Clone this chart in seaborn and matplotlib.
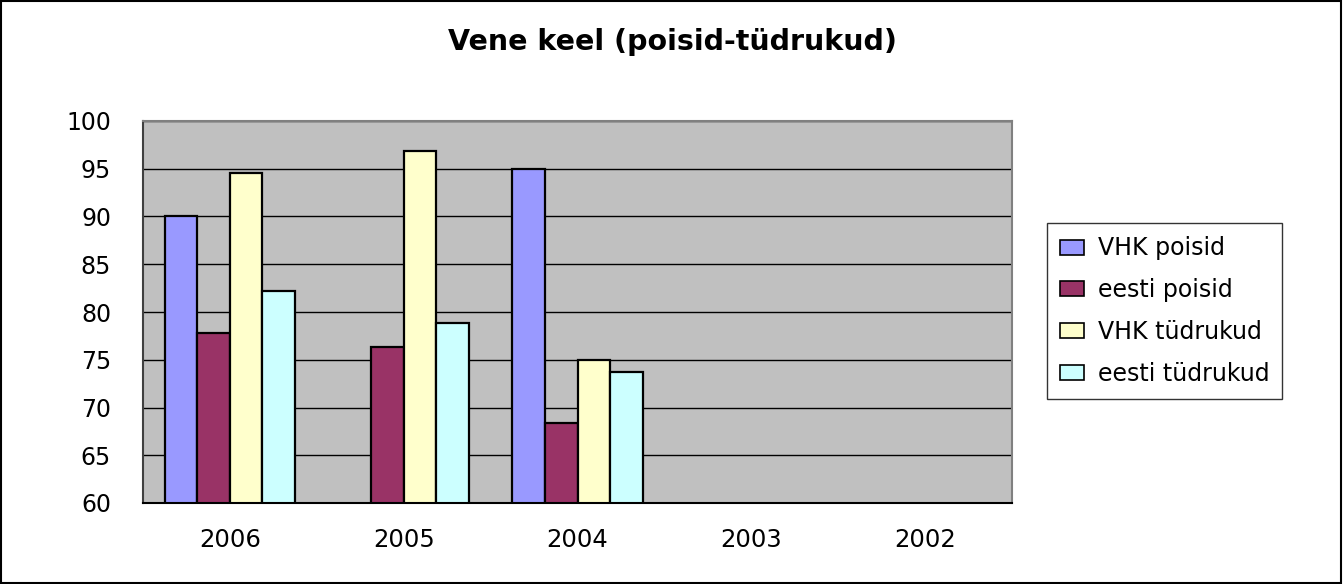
import numpy as np
import pandas as pd
import matplotlib
matplotlib.use("Agg")
import matplotlib.pyplot as plt
from matplotlib.patches import Rectangle
from matplotlib.ticker import FixedLocator, MultipleLocator
import seaborn as sns

# Results per year (NaN = no result for that year)
years = ["2006", "2005", "2004", "2003", "2002"]
vhk_poisid = [90.0, np.nan, 95.0, np.nan, np.nan]
eesti_poisid = [77.8, 76.3, 68.4, np.nan, np.nan]
vhk_tudrukud = [94.6, 96.9, 75.0, np.nan, np.nan]
eesti_tudrukud = [82.2, 78.9, 73.7, np.nan, np.nan]

series_names = ["VHK poisid", "eesti poisid", "VHK tüdrukud", "eesti tüdrukud"]
series_values = [vhk_poisid, eesti_poisid, vhk_tudrukud, eesti_tudrukud]
colors = ["#9999FF", "#993366", "#FFFFCC", "#CCFFFF"]

rows = []
for name, vals in zip(series_names, series_values):
    for y, v in zip(years, vals):
        rows.append({"aasta": y, "rühm": name, "tulemus": v})
df = pd.DataFrame(rows)

sns.set_style("white")
plt.rcParams["font.family"] = ["DejaVu Sans"]
plt.rcParams["text.color"] = "black"
plt.rcParams["xtick.color"] = "black"
plt.rcParams["ytick.color"] = "black"

fig = plt.figure(figsize=(13.44, 5.84), dpi=100)
ax = fig.add_axes([143 / 1344, 1 - 503 / 584, (1012 - 143) / 1344, (503 - 121) / 584])

sns.barplot(
    data=df, x="aasta", y="tulemus", hue="rühm",
    order=years, hue_order=series_names, palette=colors,
    width=0.75, gap=0, edgecolor="black", linewidth=1.6,
    errorbar=None, legend=True, ax=ax, saturation=1,
)

ax.set_facecolor("#C0C0C0")
ax.set_ylim(60, 100)
ax.set_xlim(-0.5, 4.5)
ax.yaxis.set_major_locator(MultipleLocator(5))
ax.grid(axis="y", color="black", linewidth=1.0)
ax.set_axisbelow(True)
ax.set_xlabel("")
ax.set_ylabel("")

for side in ["top", "right"]:
    ax.spines[side].set_color("#808080")
    ax.spines[side].set_linewidth(1.5)
ax.spines["left"].set_color("#404040")
ax.spines["left"].set_linewidth(1.5)
ax.spines["bottom"].set_color("black")
ax.spines["bottom"].set_linewidth(1.5)

ax.tick_params(axis="y", which="major", direction="out", length=11, width=1.2,
               color="#404040", labelsize=17, pad=12, labelcolor="black")
ax.tick_params(axis="x", which="major", length=0, labelsize=17.5, pad=18, labelcolor="black")
ax.xaxis.set_minor_locator(FixedLocator(np.arange(-0.5, 5.0, 1.0)))
ax.tick_params(axis="x", which="minor", direction="out", length=6, width=1.2, color="#404040")

fig.suptitle("Vene keel (poisid-tüdrukud)", x=0.5, y=1 - 42 / 584, va="center",
             fontsize=20.5, fontweight="bold", color="black")

handles, labels = ax.get_legend_handles_labels()
ax.get_legend().remove()
leg = fig.legend(handles, labels, loc="center left",
                 bbox_to_anchor=(1047 / 1344, 1 - 311 / 584),
                 fontsize=17, frameon=True, fancybox=False, edgecolor="black",
                 handlelength=1.0, handleheight=0.6, handletextpad=0.6,
                 labelspacing=0.75, borderpad=0.55, borderaxespad=0)
leg.get_frame().set_linewidth(1.0)
for h in leg.legend_handles:
    h.set_linewidth(1.2)

fig.patches.append(Rectangle((0.001, 0.002), 0.997, 0.996, transform=fig.transFigure,
                             fill=False, edgecolor="black", linewidth=1.5))

fig.savefig("out.png", dpi=100)
